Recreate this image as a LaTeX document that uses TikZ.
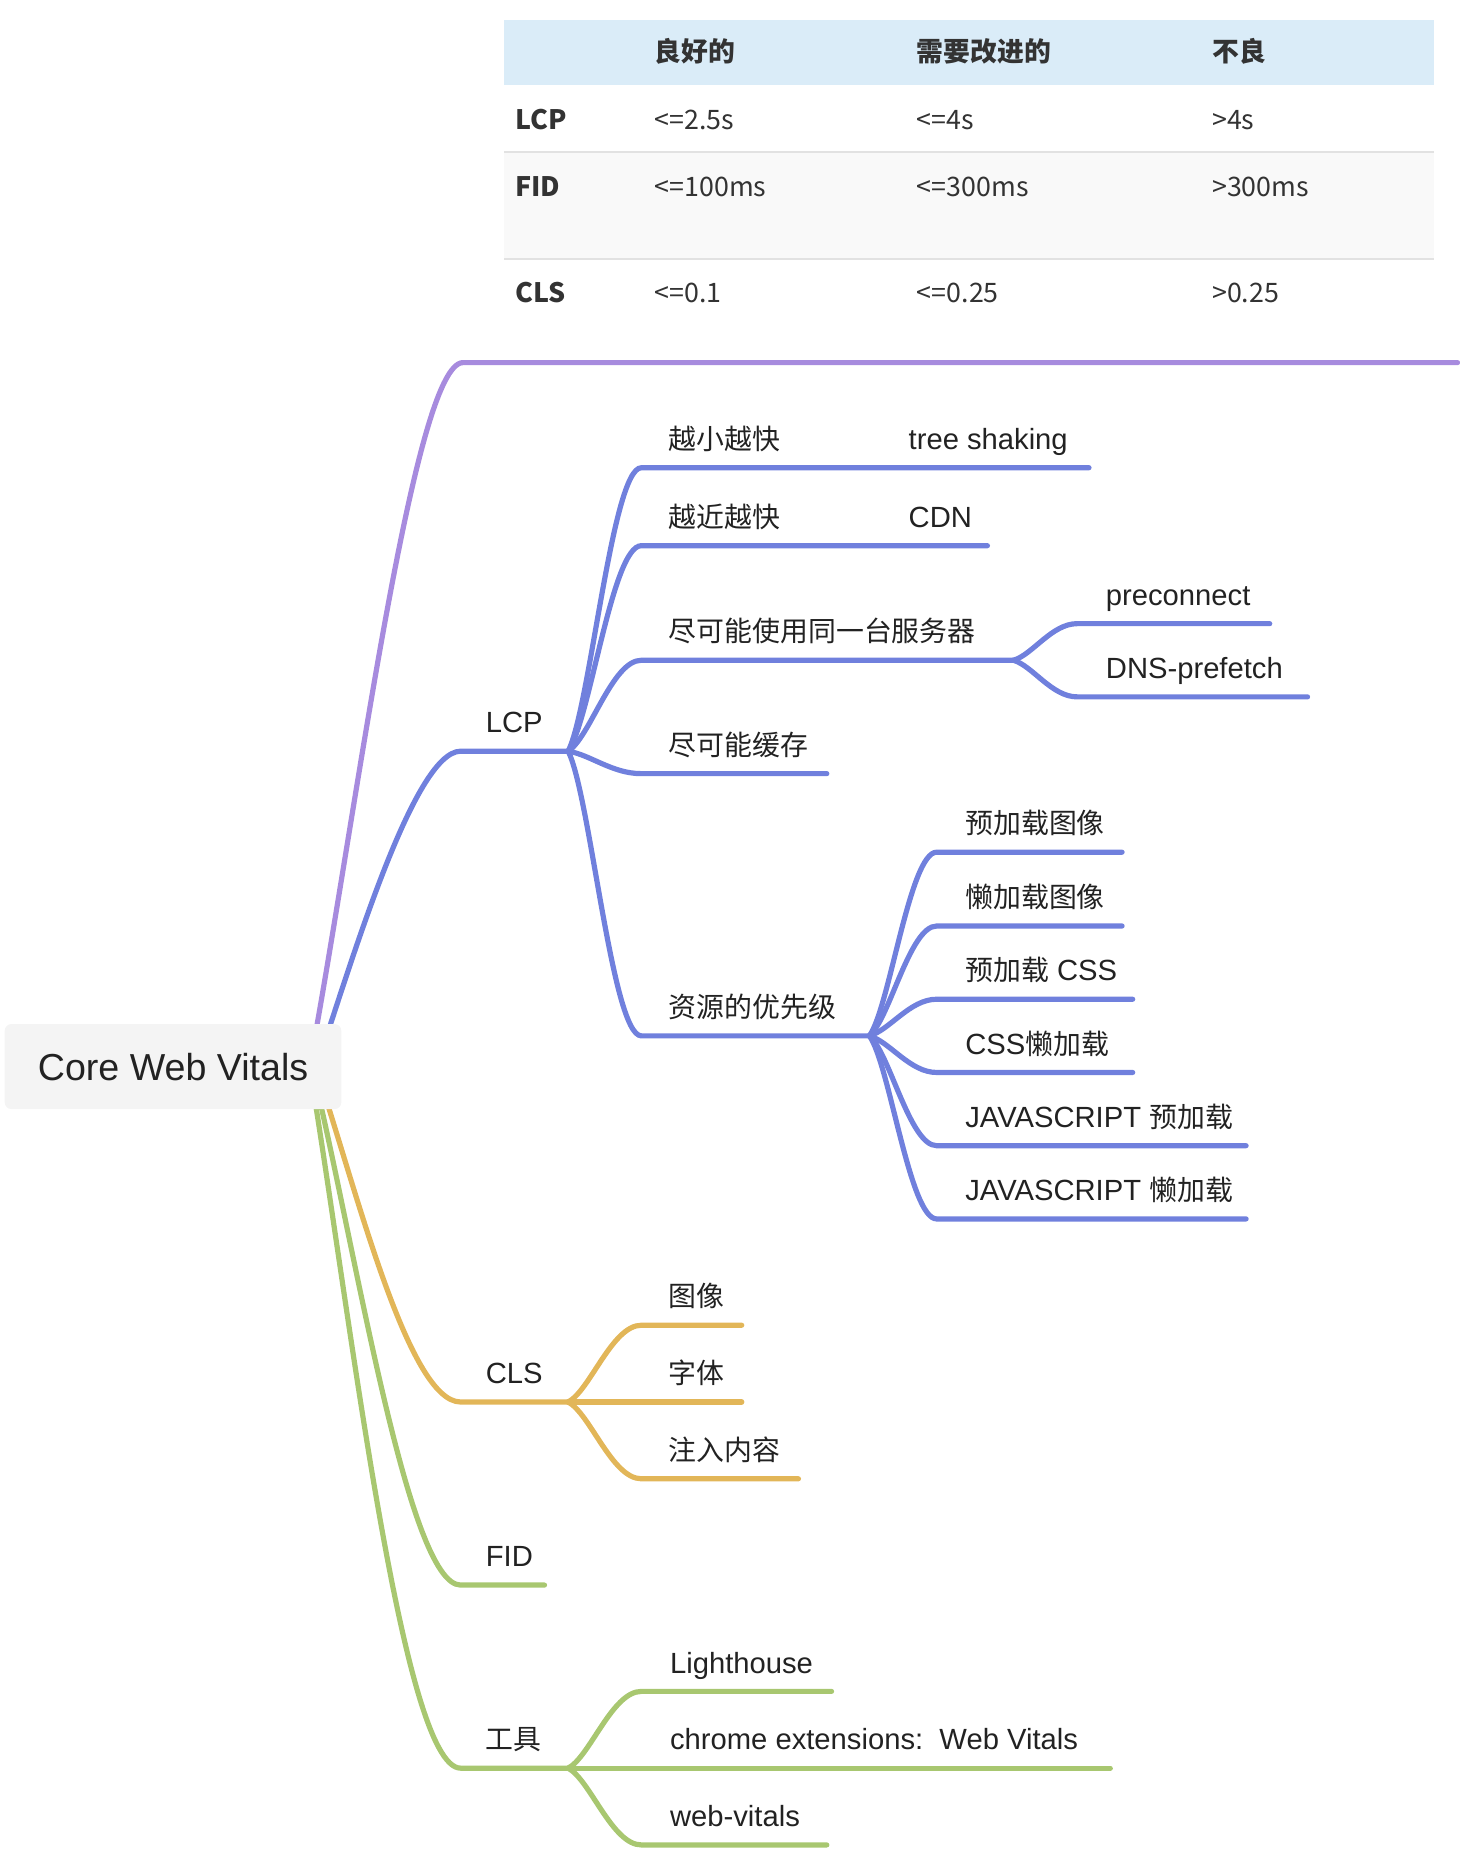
\documentclass[tikz,border=0pt]{standalone}
\usepackage{fontspec}
\setmainfont{Liberation Sans}
\newfontfamily\cjk[Scale=0.955]{Noto Sans CJK SC}
\newfontfamily\tabfont{Noto Sans CJK SC}
\usetikzlibrary{calc}
\definecolor{cpurple}{RGB}{167,139,222}
\definecolor{cblue}{RGB}{112,128,221}
\definecolor{corange}{RGB}{226,182,88}
\definecolor{cgreen}{RGB}{168,199,112}
\definecolor{rootfill}{RGB}{244,244,244}
\definecolor{hdrfill}{RGB}{218,236,248}
\definecolor{rowfill}{RGB}{249,249,249}
\definecolor{rulec}{RGB}{226,226,226}
\definecolor{txt}{RGB}{34,34,34}
\definecolor{tabtxt}{RGB}{51,51,51}
\begin{document}
\begin{tikzpicture}[x=0.5906pt,y=-0.5906pt,
  br/.style={line width=2.6pt,line cap=round},
  lbl/.style={anchor=base west,inner sep=0pt,text=txt,font=\fontsize{14.6}{17}\selectfont},
  tl/.style={anchor=base west,inner sep=0pt,text=tabtxt,font=\tabfont\fontsize{13.4}{16}\selectfont},
  tb/.style={anchor=base west,inner sep=0pt,text=tabtxt,font=\tabfont\bfseries\fontsize{13.4}{16}\selectfont},
  fan/.style={to path={let \p1=(\tikztostart),\p2=(\tikztotarget) in
     .. controls ({\x1+0.3*(\x2-\x1)},{\y1+0.15*(\y2-\y1)}) and ({\x1+0.6*(\x2-\x1)},{\y2}) .. (\tikztotarget)}}]
\useasboundingbox (0,0) rectangle (1236,1568);
% ---------------- table ----------------
\fill[hdrfill] (427,17) rectangle (1214,72);
\fill[rowfill] (427,129) rectangle (1214,219);
\draw[rulec,line width=0.9pt] (427,128.5) -- (1214,128.5);
\draw[rulec,line width=0.9pt] (427,219) -- (1214,219);
\node[tb] (h1) at (554,52) {良好的};
\node[tb] (h2) at (776,52) {需要改进的};
\node[tb] (h3) at (1026,52) {不良};
\node[tb] (r1) at (436,109.5) {LCP};
\node[tl] (r1a) at (554,109.5) {<=2.5s};
\node[tl] (r1b) at (776,109.5) {<=4s};
\node[tl] (r1c) at (1026,109.5) {>4s};
\node[tb] (r2) at (436,166) {FID};
\node[tl] (r2a) at (554,166) {<=100ms};
\node[tl] (r2b) at (776,166) {<=300ms};
\node[tl] (r2c) at (1026,166) {>300ms};
\node[tb] (r3) at (436,256.5) {CLS};
\node[tl] (r3a) at (554,256.5) {<=0.1};
\node[tl] (r3b) at (776,256.5) {<=0.25};
\node[tl] (r3c) at (1026,256.5) {>0.25};
% ---------------- root anchor points ----------------
\coordinate (oP) at (262,903);
\coordinate (oL) at (268,903);
\coordinate (oC) at (267,903);
\coordinate (oF) at (264,903);
\coordinate (oT) at (262,903);
% ---------------- main topics ----------------
\coordinate (pS) at (392,307); \coordinate (pE) at (1234,307);
\coordinate (lcpS) at (390,636); \coordinate (lcpE) at (481,636);
\coordinate (clsS) at (390,1187); \coordinate (clsE) at (481,1187);
\coordinate (fidS) at (390,1342); \coordinate (fidE) at (461,1342);
\coordinate (toolS) at (390,1497); \coordinate (toolE) at (481,1497);
\draw[br,cpurple] (oP) .. controls (300,700) and (350,307) .. (pS) -- (pE);
\draw[br,cblue] (oL) .. controls (296,820) and (350,636) .. (lcpS) -- (lcpE);
\draw[br,corange] (oC) .. controls (300,1000) and (345,1187) .. (clsS) -- (clsE);
\draw[br,cgreen] (oF) .. controls (300,1050) and (345,1342) .. (fidS) -- (fidE);
\draw[br,cgreen] (oT) .. controls (295,1100) and (340,1497) .. (toolS) -- (toolE);
\node[lbl] (lcp) at (411,620.5) {LCP};
\node[lbl] (cls) at (411,1171.5) {CLS};
\node[lbl] (fid) at (411,1326.5) {FID};
\node[lbl] (tool) at (411,1481.5) {\cjk 工具};
% ---------------- LCP children ----------------
\coordinate (a1S) at (543,396); \coordinate (a1E) at (688,396);
\coordinate (a1cS) at (743,396); \coordinate (a1cE) at (922,396);
\coordinate (a2S) at (543,462); \coordinate (a2E) at (688,462);
\coordinate (a2cS) at (743,462); \coordinate (a2cE) at (836,462);
\coordinate (a3S) at (543,559); \coordinate (a3E) at (858,559);
\coordinate (a3aS) at (912,528); \coordinate (a3aE) at (1075,528);
\coordinate (a3bS) at (912,590); \coordinate (a3bE) at (1107,590);
\coordinate (a4S) at (543,655); \coordinate (a4E) at (700,655);
\coordinate (a5S) at (543,877); \coordinate (a5E) at (736,877);
\coordinate (b1S) at (793,721.5); \coordinate (b1E) at (950,721.5);
\coordinate (b2S) at (793,784); \coordinate (b2E) at (950,784);
\coordinate (b3S) at (793,846); \coordinate (b3E) at (959,846);
\coordinate (b4S) at (793,908); \coordinate (b4E) at (959,908);
\coordinate (b5S) at (793,970); \coordinate (b5E) at (1055,970);
\coordinate (b6S) at (793,1032); \coordinate (b6E) at (1055,1032);
\begin{scope}[br,cblue]
\draw (lcpE) to[fan] (a1S) -- (a1E) -- (a1cS) -- (a1cE);
\draw (lcpE) to[fan] (a2S) -- (a2E) -- (a2cS) -- (a2cE);
\draw (lcpE) to[fan] (a3S) -- (a3E);
\draw (a3E) to[fan] (a3aS) -- (a3aE);
\draw (a3E) to[fan] (a3bS) -- (a3bE);
\draw (lcpE) to[fan] (a4S) -- (a4E);
\draw (lcpE) to[fan] (a5S) -- (a5E);
\draw (a5E) to[fan] (b1S) -- (b1E);
\draw (a5E) to[fan] (b2S) -- (b2E);
\draw (a5E) to[fan] (b3S) -- (b3E);
\draw (a5E) to[fan] (b4S) -- (b4E);
\draw (a5E) to[fan] (b5S) -- (b5E);
\draw (a5E) to[fan] (b6S) -- (b6E);
\end{scope}
\node[lbl] (a1) at (566,380.5) {\cjk 越小越快};
\node[lbl] (a1c) at (769,380.5) {tree shaking};
\node[lbl] (a2) at (566,446.5) {\cjk 越近越快};
\node[lbl] (a2c) at (769,446.5) {CDN};
\node[lbl] (a3) at (566,543.5) {\cjk 尽可能使用同一台服务器};
\node[lbl] (a3a) at (936,512.5) {preconnect};
\node[lbl] (a3b) at (936,574.5) {DNS-prefetch};
\node[lbl] (a4) at (566,639.5) {\cjk 尽可能缓存};
\node[lbl] (a5) at (566,861.5) {\cjk 资源的优先级};
\node[lbl] (b1) at (817,706) {\cjk 预加载图像};
\node[lbl] (b2) at (817,768.5) {\cjk 懒加载图像};
\node[lbl] (b3) at (817,830.5) {{\cjk 预加载} CSS};
\node[lbl] (b4) at (817,892.5) {CSS{\cjk 懒加载}};
\node[lbl] (b5) at (817,954.5) {JAVASCRIPT {\cjk 预加载}};
\node[lbl] (b6) at (817,1016.5) {JAVASCRIPT {\cjk 懒加载}};
% ---------------- CLS children ----------------
\coordinate (c1S) at (543,1122); \coordinate (c1E) at (628,1122);
\coordinate (c2S) at (543,1187); \coordinate (c2E) at (628,1187);
\coordinate (c3S) at (543,1252); \coordinate (c3E) at (676,1252);
\begin{scope}[br,corange]
\draw (clsE) to[fan] (c1S) -- (c1E);
\draw (clsE) -- (c2S) -- (c2E);
\draw (clsE) to[fan] (c3S) -- (c3E);
\end{scope}
\node[lbl] (c1) at (566,1106.5) {\cjk 图像};
\node[lbl] (c2) at (566,1171.5) {\cjk 字体};
\node[lbl] (c3) at (566,1236.5) {\cjk 注入内容};
% ---------------- tools children ----------------
\coordinate (t1S) at (543,1432); \coordinate (t1E) at (704,1432);
\coordinate (t2S) at (543,1497); \coordinate (t2E) at (940,1497);
\coordinate (t3S) at (543,1562); \coordinate (t3E) at (700,1562);
\begin{scope}[br,cgreen]
\draw (toolE) to[fan] (t1S) -- (t1E);
\draw (toolE) -- (t2S) -- (t2E);
\draw (toolE) to[fan] (t3S) -- (t3E);
\end{scope}
\node[lbl] (t1) at (567,1416.5) {Lighthouse};
\node[lbl] (t2) at (567,1481.5) {chrome extensions:\ \ Web Vitals};
\node[lbl] (t3) at (567,1546.5) {web-vitals};
% ---------------- root ----------------
\node[fill=rootfill,rounded corners=3.3pt,minimum width=168.3pt,minimum height=42.5pt,
      inner sep=0pt,text=txt,font=\fontsize{18.8}{22}\selectfont] (root) at (146.5,903) {Core Web Vitals};
\end{tikzpicture}
\end{document}
